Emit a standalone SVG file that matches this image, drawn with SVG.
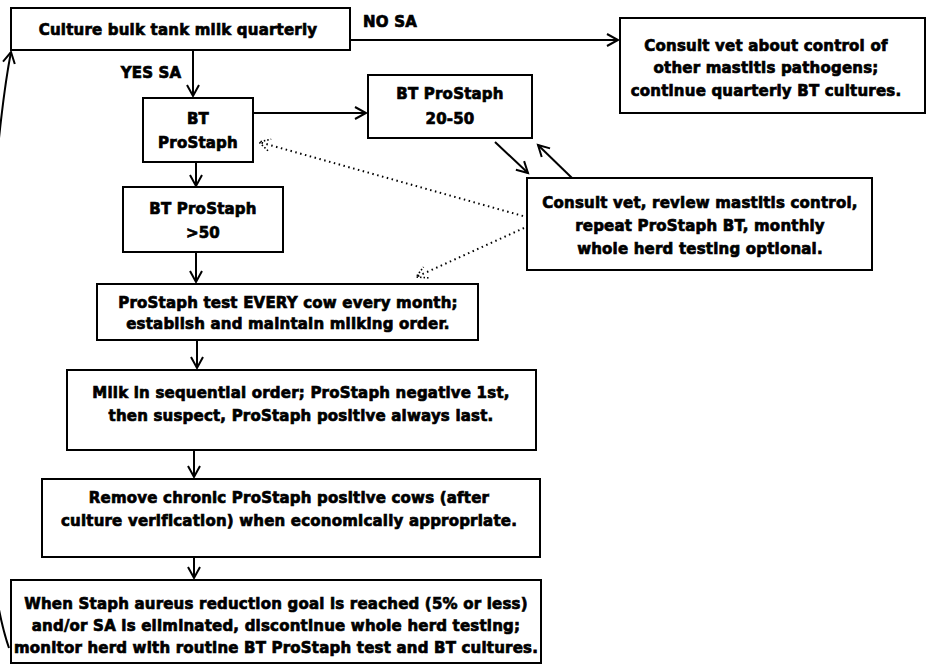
<svg xmlns="http://www.w3.org/2000/svg" width="926" height="667" viewBox="0 0 926 667">
<defs>
<style>
.box{fill:#fff;stroke:#000;stroke-width:2}
.t{font-family:"DejaVu Sans","Liberation Sans",sans-serif;font-weight:bold;font-size:15px;letter-spacing:0.2px;fill:#000;stroke:#000;stroke-width:0.7;text-anchor:middle}
.c{fill:none;stroke:#000;stroke-width:2}
.d{fill:none;stroke:#000;stroke-width:2;stroke-dasharray:1.5 3.5}
</style>
<marker id="ah" markerUnits="userSpaceOnUse" markerWidth="14" markerHeight="14" refX="12" refY="6" orient="auto" overflow="visible">
<path d="M1,0 L12,6 L1,12" fill="none" stroke="#000" stroke-width="2"/>
</marker>
<marker id="dh" markerUnits="userSpaceOnUse" markerWidth="14" markerHeight="14" refX="12" refY="6" orient="auto" overflow="visible">
<path d="M1,0 L12,6 L1,12" fill="none" stroke="#000" stroke-width="1.6" stroke-dasharray="1.5 2"/>
</marker>
</defs>
<rect width="926" height="667" fill="#fff"/>

<g id="connectors">
<path class="c" d="M350,40 L618,40" marker-end="url(#ah)"/>
<path class="c" d="M193,50 L193,96" marker-end="url(#ah)"/>
<path class="c" d="M253,113 L366,113" marker-end="url(#ah)"/>
<path class="c" d="M495,142 L528,173" marker-end="url(#ah)"/>
<path class="c" d="M572,178 L538,145" marker-end="url(#ah)"/>
<path class="c" d="M196,162 L196,186" marker-end="url(#ah)"/>
<path class="c" d="M196,252 L196,282" marker-end="url(#ah)"/>
<path class="c" d="M197,340 L197,368" marker-end="url(#ah)"/>
<path class="c" d="M194,450 L194,477" marker-end="url(#ah)"/>
<path class="c" d="M194,557 L194,578" marker-end="url(#ah)"/>
<path class="d" d="M523,216 L259,142" marker-end="url(#dh)"/>
<path class="d" d="M524,228 L416,277" marker-end="url(#dh)"/>
<path class="c" d="M9,648 C-35,520 -10,160 11,52" marker-end="url(#ah)"/>
<text class="t" x="390" y="27">NO SA</text>
<text class="t" x="151" y="78">YES SA</text>
</g>

<g id="n-culture">
<rect class="box" x="11" y="8" width="339" height="42"/>
<text class="t" x="178" y="35">Culture bulk tank milk quarterly</text>
</g>

<g id="n-nosa">
<rect class="box" x="620" y="18" width="305" height="95"/>
<text class="t" x="766" y="51">Consult vet about control of</text>
<text class="t" x="766" y="73">other mastitis pathogens;</text>
<text class="t" x="766" y="96">continue quarterly BT cultures.</text>
</g>

<g id="n-bt">
<rect class="box" x="143" y="98" width="110" height="64"/>
<text class="t" x="198" y="124">BT</text>
<text class="t" x="198" y="148">ProStaph</text>
</g>

<g id="n-2050">
<rect class="box" x="368" y="75" width="164" height="63"/>
<text class="t" x="450" y="99">BT ProStaph</text>
<text class="t" x="450" y="124">20-50</text>
</g>

<g id="n-consult2">
<rect class="box" x="527" y="178" width="345" height="92"/>
<text class="t" x="700" y="208">Consult vet, review mastitis control,</text>
<text class="t" x="700" y="231">repeat ProStaph BT, monthly</text>
<text class="t" x="700" y="254">whole herd testing optional.</text>
</g>

<g id="n-50">
<rect class="box" x="123" y="187" width="160" height="65"/>
<text class="t" x="203" y="214">BT ProStaph</text>
<text class="t" x="203" y="238">&gt;50</text>
</g>

<g id="n-test">
<rect class="box" x="97" y="284" width="381" height="56"/>
<text class="t" x="288" y="308">ProStaph test EVERY cow every month;</text>
<text class="t" x="288" y="329">establish and maintain milking order.</text>
</g>

<g id="n-milk">
<rect class="box" x="67" y="370" width="469" height="80"/>
<text class="t" x="301" y="398">Milk in sequential order; ProStaph negative 1st,</text>
<text class="t" x="301" y="421">then suspect, ProStaph positive always last.</text>
</g>

<g id="n-remove">
<rect class="box" x="42" y="479" width="498" height="78"/>
<text class="t" x="289" y="503">Remove chronic ProStaph positive cows (after</text>
<text class="t" x="289" y="526">culture verification) when economically appropriate.</text>
</g>

<g id="n-goal">
<rect class="box" x="11" y="580" width="530" height="83"/>
<text class="t" x="276" y="609">When Staph aureus reduction goal is reached (5% or less)</text>
<text class="t" x="276" y="631">and/or SA is eliminated, discontinue whole herd testing;</text>
<text class="t" x="276" y="653">monitor herd with routine BT ProStaph test and BT cultures.</text>
</g>
</svg>
